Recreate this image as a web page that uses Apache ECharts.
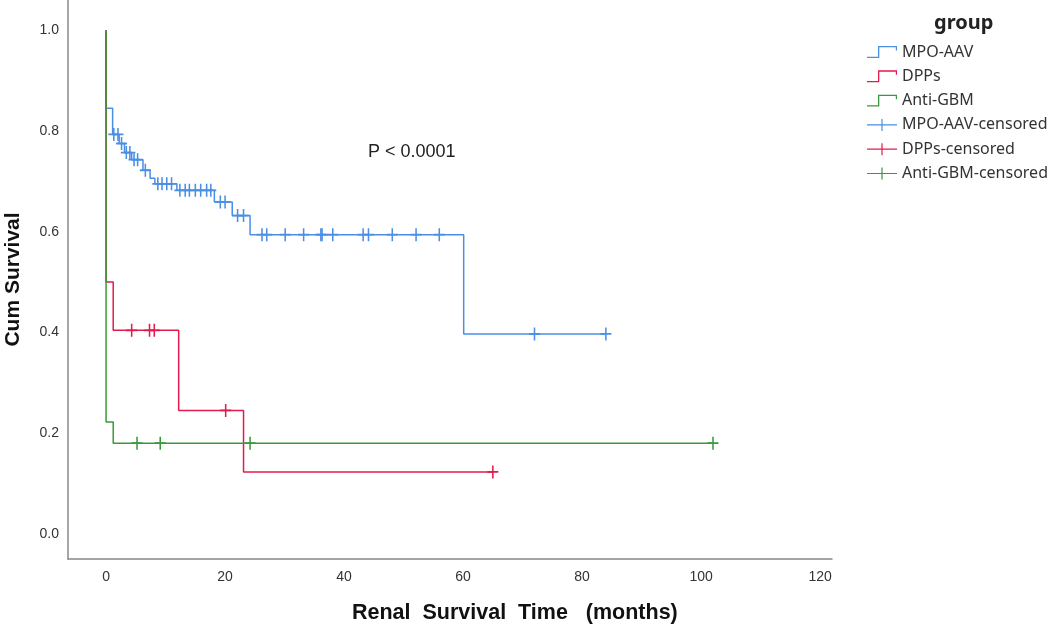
<!DOCTYPE html>
<html lang="en">
<head>
  <meta charset="UTF-8">
  <title>Renal survival</title>
  <script src="https://cdn.jsdelivr.net/npm/echarts@6/dist/echarts.min.js"></script>
  <style>
    html, body { margin: 0; padding: 0; background: #fff; }
    #chart { width: 1063px; height: 628px; }
  </style>
</head>
<body>
<div id="chart"></div>
<script>
  // event times (months) and survival after each step
  let mpoTimes = [0, 0, 1.1, 2.2, 3.1, 4.3, 6.2, 7.4, 8.2, 11.9, 18.2, 21.2, 24.2, 60.1, 84]
  let mpoSurv = [1.0, 0.845, 0.793, 0.775, 0.757, 0.743, 0.722, 0.706, 0.695, 0.682, 0.659, 0.632, 0.594, 0.397, 0.397]
  let mpoCensored = [1.3, 2.0, 2.6, 3.4, 4.0, 4.7, 5.3, 6.6, 8.7, 9.4, 10.2, 11.0, 12.4, 13.3, 14.0, 15.0, 15.9, 16.9, 17.6,
    19.2, 20.0, 22.1, 23.1, 26.2, 27.0, 30.1, 33.2, 36.1, 36.3, 38.1, 43.2, 44.1, 48.1, 52.1, 56.0, 72, 84]

  let dppTimes = [0, 0, 1.2, 12.2, 23.1, 65]
  let dppSurv = [1.0, 0.5, 0.404, 0.245, 0.123, 0.123]
  let dppCensored = [4.3, 7.3, 8.1, 20.1, 65]

  let gbmTimes = [0, 0, 1.2, 102]
  let gbmSurv = [1.0, 0.222, 0.18, 0.18]
  let gbmCensored = [5.2, 9.1, 24.2, 102]

  let yTicks = [0, 0.2, 0.4, 0.6, 0.8, 1.0]
  let xTicks = [0, 20, 40, 60, 80, 100, 120]

  let groups = ['MPO-AAV', 'DPPs', 'Anti-GBM']
  let colors = ['#4a8fe4', '#e31a4d', '#3a993a']

  // value of the step curve at time t
  function survAt(times, surv, t) {
    let s = surv[0]
    for (let i = 0; i < times.length; i++) {
      if (times[i] <= t) s = surv[i]
    }
    return s
  }

  function pairs(times, surv) {
    return times.map((t, i) => [t, surv[i]])
  }

  let curves = [
    {times: mpoTimes, surv: mpoSurv, cens: mpoCensored},
    {times: dppTimes, surv: dppSurv, cens: dppCensored},
    {times: gbmTimes, surv: gbmSurv, cens: gbmCensored}
  ]

  let stepIcon = 'path://M0,10.6 H11 V0 H30 V4.5 H28.8 V1.3 H12.3 V11.9 H0 Z'
  let plusIcon = 'path://M0,5.4 H30 V6.6 H0 Z M14.4,0 H15.6 V12 H14.4 Z'
  let plusSymbol = 'path://M0,4.3 H10 V5.7 H0 Z M4.3,0 H5.7 V10 H4.3 Z'

  let series = []
  // green first so the others sit on top like the original
  let order = [2, 1, 0]
  order.forEach(i => {
    series.push({
      name: groups[i],
      type: 'line',
      step: 'end',
      showSymbol: false,
      z: 2 + i,
      lineStyle: {color: colors[i], width: 1.5},
      itemStyle: {color: colors[i]},
      data: pairs(curves[i].times, curves[i].surv)
    })
  })
  order.forEach(i => {
    series.push({
      name: groups[i] + '-censored',
      type: 'scatter',
      symbol: plusSymbol,
      symbolSize: [11, 13],
      z: 5 + i,
      itemStyle: {color: colors[i], opacity: 1},
      data: curves[i].cens.map(t => [t, survAt(curves[i].times, curves[i].surv, t)])
    })
  })

  let legendData = groups.map(g => ({name: g, icon: stepIcon}))
    .concat(groups.map(g => ({name: g + '-censored', icon: plusIcon})))

  let myChart = echarts.init(document.getElementById('chart'))
  let option = {
    animation: false,
    textStyle: {fontFamily: 'Liberation Sans, Arial, sans-serif'},
    grid: {left: 68, right: 231, top: 0, bottom: 69, outerBoundsMode: 'none', containLabel: false},
    title: {
      text: 'group',
      left: 929,
      top: 8,
      textStyle: {fontSize: 20, fontWeight: 'bold', color: '#222', fontFamily: 'Noto Sans, sans-serif'}
    },
    legend: {
      orient: 'vertical',
      left: 862,
      top: 39,
      itemWidth: 30,
      itemHeight: 12,
      itemGap: 8.3,
      selectedMode: false,
      textStyle: {fontSize: 16, color: '#333', fontFamily: 'Noto Sans, sans-serif'},
      data: legendData
    },
    xAxis: {
      type: 'value',
      min: -6.4,
      max: 122,
      splitLine: {show: false},
      axisTick: {show: false},
      axisLine: {onZero: false, lineStyle: {color: '#888', width: 1.5}},
      axisLabel: {
        customValues: xTicks,
        fontSize: 14,
        color: '#333',
        margin: 11
      }
    },
    yAxis: {
      type: 'value',
      min: -0.05,
      max: 1.06,
      splitLine: {show: false},
      axisTick: {show: false},
      axisLine: {show: true, onZero: false, lineStyle: {color: '#888', width: 1.5}},
      axisLabel: {
        customValues: yTicks,
        fontSize: 14,
        color: '#333',
        margin: 9,
        formatter: v => v.toFixed(1)
      },
      name: 'Cum Survival',
      nameLocation: 'middle',
      nameGap: 44,
      nameTextStyle: {fontSize: 21, fontWeight: 'bold', color: '#111'}
    },
    graphic: [
      {
        type: 'text',
        left: 352,
        top: 602,
        style: {text: 'Renal  Survival  Time   (months)', fontSize: 21.5, fontWeight: 'bold', fill: '#111',
          fontFamily: 'Liberation Sans, Arial, sans-serif'}
      },
      {
        type: 'text',
        left: 368,
        top: 143,
        style: {text: 'P < 0.0001', fontSize: 18, fill: '#222', fontFamily: 'Liberation Sans, Arial, sans-serif'}
      }
    ],
    series: series
  }
  myChart.setOption(option)
</script>
</body>
</html>
